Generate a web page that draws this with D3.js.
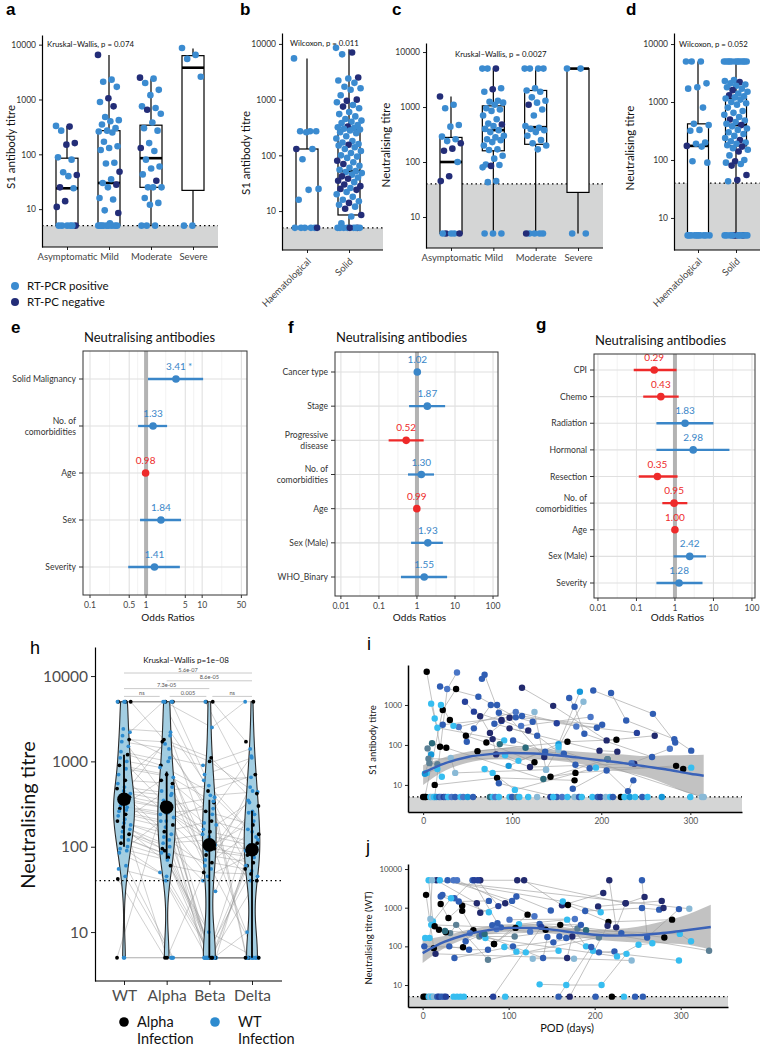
<!DOCTYPE html>
<html>
<head>
<meta charset="utf-8">
<script src="https://cdn.jsdelivr.net/npm/d3@7"></script>
<style>
  body { margin: 0; background: #fff; }
  text { font-family: Lato, "Open Sans", sans-serif; }
</style>
</head>
<body>
<script>
// ---------------- data ----------------
// box panels a-d: [lower whisker, q1, median, q3, upper whisker]
var sevCats = ["Asymptomatic", "Mild", "Moderate", "Severe"];
var cancerCats = ["Haematological", "Solid"];

var aBox = [[5, 5, 24, 85, 330], [5, 5, 30, 270, 6500], [5, 25, 85, 340, 2400], [5, 22, 3800, 6300, 8500]];
// points: [titre, RT-PCR negative flag]
var aPts = [
  [[330,0],[320,1],[270,0],[160,1],[150,1],[88,0],[80,0],[47,0],[42,1],[40,0],[25,1],[24,0],[14,1],[11,1],[5,0],[5,0],[5,1],[5,0],[5,0],[5,0]],
  [[6500,1],[2300,0],[2100,0],[1700,0],[1050,1],[900,0],[750,1],[480,0],[420,0],[400,0],[350,0],[300,0],[270,0],[260,0],[250,0],[170,0],[140,0],[130,0],[120,0],[70,0],[68,0],[48,1],[35,0],[30,0],[28,1],[25,0],[16,0],[15,0],[9.5,0],[8.5,1],[5.5,0],[5,0],[5,0],[5,0],[5,0],[5,0],[5,0],[5,0],[5,0],[5,0]],
  [[2500,1],[2400,0],[2000,0],[1500,0],[1200,0],[750,0],[700,0],[650,1],[550,0],[380,0],[300,0],[270,0],[160,0],[130,1],[115,0],[80,0],[60,0],[55,0],[43,0],[33,1],[25,0],[25,0],[25,0],[16,0],[13,0],[12,0],[5,0],[5,0],[5,0]],
  [[8700,0],[6500,0],[5500,0],[2600,0],[5,0],[5,0]]
];

var bBox = [[5, 5, 5, 130, 5500], [5, 8.5, 52, 290, 8000]];
var bPts = [
  [[5500,0],[270,0],[270,0],[270,0],[260,0],[130,1],[130,0],[85,0],[25,0],[24,0],[16,0],[5,0],[5,0],[5,0],[5,0],[5,0],[5,1]],
  [[8500,0],[7000,1],[6500,0],[2500,1],[2400,0],[2200,0],[2000,0],[1700,0],[1600,0],[1500,0],[1200,0],[1000,1],[950,1],[900,0],[800,0],[750,1],[700,0],[600,0],[550,0],[500,0],[450,0],[420,0],[400,0],[380,0],[350,0],[330,1],[320,0],[310,0],[300,0],[290,0],[280,0],[260,0],[250,0],[220,0],[200,0],[180,0],[170,0],[160,0],[155,1],[150,0],[140,0],[130,0],[120,0],[110,0],[100,0],[95,0],[90,0],[80,1],[75,0],[70,1],[65,0],[60,0],[55,0],[52,0],[50,0],[48,0],[45,0],[42,1],[40,0],[38,1],[35,1],[33,0],[30,1],[28,1],[26,0],[25,1],[24,1],[22,0],[20,0],[18,0],[16,0],[15,0],[14,1],[13,0],[12,0],[11,1],[8.5,1],[8,0],[6,0],[5,1],[5,0],[5,0],[5,0],[5,0],[5,0],[5,1],[5,0],[5,0]]
];

var cBox = [[5, 5, 100, 280, 1550], [5, 160, 380, 1050, 5000], [5, 210, 430, 2000, 5000], [5, 28, 5000, 5000, 5000]];
var cPts = [
  [[1550,1],[1100,0],[950,0],[470,0],[440,0],[290,0],[260,0],[240,0],[220,1],[175,1],[160,1],[100,0],[55,1],[45,1],[5,0],[5,1],[5,1],[5,0],[5,0]],
  [[5000,0],[5000,1],[5000,0],[2200,0],[2100,1],[1900,0],[1300,0],[1250,0],[1200,0],[1100,0],[950,0],[900,0],[850,0],[700,0],[600,0],[500,0],[480,1],[450,0],[400,0],[380,0],[350,0],[300,0],[280,0],[260,0],[250,0],[230,0],[200,0],[170,0],[165,0],[130,0],[115,0],[90,0],[88,0],[85,1],[80,0],[45,0],[43,0],[5,0],[5,0],[5,0]],
  [[5000,0],[5000,0],[5000,0],[5000,0],[2200,0],[2000,0],[1900,0],[1500,0],[1300,0],[1200,0],[1100,1],[900,0],[700,0],[450,0],[420,0],[400,0],[380,0],[350,0],[300,0],[250,0],[220,0],[200,0],[170,0],[5,0],[5,0],[5,0],[5,1],[5,0]],
  [[5000,0],[5000,0],[5,0],[5,0]]
];

var dBox = [[5, 5, 175, 420, 5000], [5, 175, 400, 1150, 5000]];
var dPts = [
  [[5000,0],[5000,0],[5000,0],[2100,0],[1800,0],[1700,0],[800,0],[420,0],[400,0],[330,0],[320,0],[200,0],[190,0],[175,1],[170,0],[95,0],[90,0],[5,0],[5,0],[5,0],[5,0],[5,0],[5,0],[5,0],[5,0],[5,0],[5,0]],
  [[5000,0],[5000,0],[5000,0],[5000,0],[5000,0],[5000,0],[5000,0],[5000,0],[5000,0],[5000,0],[5000,0],[5000,0],[2400,0],[2300,0],[2200,1],[2100,0],[2000,0],[1900,0],[1800,0],[1700,0],[1600,1],[1500,0],[1400,0],[1300,1],[1250,0],[1200,0],[1150,0],[1100,0],[1000,0],[950,0],[900,0],[800,0],[700,0],[650,0],[600,0],[550,0],[500,1],[480,0],[450,0],[420,0],[400,1],[380,0],[350,0],[330,0],[300,0],[280,0],[260,0],[240,0],[220,1],[210,0],[200,0],[190,0],[180,0],[170,1],[160,0],[150,0],[140,1],[120,0],[100,0],[95,1],[90,0],[85,0],[80,1],[55,1],[45,1],[43,0],[5,1],[5,1],[5,0],[5,0],[5,0],[5,0],[5,1],[5,0],[5,0],[5,0],[5,0],[5,0]]
];

// forest panels e-g
var eRows = ["Solid Malignancy", "No. of\ncomorbidities", "Age", "Sex", "Severity"];
var eOR = [3.41, 1.33, 0.98, 1.84, 1.41];
var eLo = [1.08, 0.72, 0.96, 0.78, 0.48];
var eHi = [10.4, 2.37, 1.0, 4.2, 4.0];
var eSig = ["*", "", "", "", ""];

var fRows = ["Cancer type", "Stage", "Progressive\ndisease", "No. of\ncomorbidities", "Age", "Sex (Male)", "WHO_Binary"];
var fOR = [1.02, 1.87, 0.52, 1.30, 0.99, 1.93, 1.55];
var fLo = [0.98, 0.62, 0.18, 0.58, 0.98, 0.70, 0.38];
var fHi = [1.06, 5.5, 1.5, 2.8, 1.0, 4.8, 6.2];

var gRows = ["CPI", "Chemo", "Radiation", "Hormonal", "Resection", "No. of\ncomorbidities", "Age", "Sex (Male)", "Severity"];
var gOR = [0.29, 0.43, 1.83, 2.98, 0.35, 0.95, 0.998, 2.42, 1.28];
var gLo = [0.085, 0.15, 0.33, 0.33, 0.115, 0.47, 0.98, 0.92, 0.33];
var gHi = [1.1, 1.25, 10, 26, 1.17, 2.1, 1.02, 6.4, 5.2];

var orTicksE = [0.1, 0.5, 1, 5, 10, 50];
var orTicksFG = [0.01, 0.1, 1, 10, 100];

// panel h: neutralising titre per variant, one row per subject [WT, Alpha, Beta, Delta, alpha infection]
var hVariants = ["WT", "Alpha", "Beta", "Delta"];
var hMedian = [360, 290, 105, 92];
var hLow = [100, 72, 5, 5];
var hHigh = [1200, 760, 355, 264];
var hSubjects = [
  [5000,5000,5000,5000,1],[5000,5000,5000,1700,1],[5000,5000,5000,450,0],[5000,5000,2500,5000,0],
  [5000,5000,700,1100,0],[5000,1800,1100,300,1],[2400,2200,600,650,0],[2200,5000,400,440,0],
  [2000,1100,900,1400,0],[1800,1700,1000,420,1],[1700,1400,180,330,0],[1500,450,520,130,0],
  [1300,1000,30,250,0],[1200,900,450,700,1],[1100,300,380,160,0],[1000,850,5,240,0],
  [900,700,330,60,1],[820,650,95,200,0],[700,250,280,5,0],[600,550,260,180,1],
  [550,1600,240,90,0],[500,420,60,150,0],[480,150,200,140,1],[450,400,190,1150,0],
  [420,350,5,120,0],[400,2000,160,40,0],[380,320,150,110,1],[370,120,140,105,0],
  [360,290,130,5,0],[350,280,5,95,0],[330,600,110,90,1],[300,250,105,350,0],
  [290,240,45,85,0],[280,5,95,80,1],[270,220,90,75,0],[260,200,340,5,0],
  [240,180,80,65,1],[230,170,5,60,0],[210,500,70,260,0],[200,90,65,55,1],
  [190,140,5,52,0],[180,130,55,5,0],[170,60,50,48,1],[160,110,120,45,0],
  [150,100,40,500,0],[140,95,5,40,1],[130,80,5,5,0],[120,85,10,5,0],
  [110,75,5,5,1],[100,200,5,5,0],[95,70,5,5,0],[90,50,5,100,0],
  [85,45,5,10,0],[60,5,5,5,0],[55,40,5,5,0],[45,5,5,5,0],
  [42,5,5,5,1],[5,5,5,5,0],[5,330,5,5,1],[5,5,5,5,0]
];
// pairwise comparisons: [from, to, label, row]
var hCompare = [[0, 3, "5.6e-07", 0], [1, 3, "8.6e-05", 1], [0, 2, "7.3e-05", 2], [0, 1, "ns", 3], [1, 2, "0.005", 3], [2, 3, "ns", 3]];

// panels i, j: per-patient trajectories [colour index, [[day, titre], ...]]
var trajPal = ["#000000", "#222a6e", "#25409a", "#2f5db3", "#4a76c6", "#1597d8", "#36bdf0", "#89b9d6", "#2b6b7c", "#5c8095"];

var iTracks = [
  [0, [[4,6800],[19,90],[26,85]]], [4, [[13,5],[27,2500],[38,6500]]], [3, [[66,4500],[69,5700],[85,640],[123,380]]],
  [3, [[19,2900],[62,1600],[104,490],[201,320]]], [0, [[2,5],[22,750],[37,2500]]], [1, [[111,2700],[146,950],[206,130],[260,170]]],
  [5, [[96,30],[152,105],[176,2150]]], [3, [[191,2300],[258,600],[283,115]]], [3, [[211,2000],[228,410],[282,140],[301,72]]],
  [6, [[9,1080],[13,460],[16,270],[91,130]]], [3, [[49,120],[57,260],[76,1000],[83,1000]]], [7, [[125,670],[138,24],[180,1200]]],
  [3, [[164,1500],[170,900],[181,190],[257,50]]], [1, [[64,520],[75,200],[97,480],[136,50]]], [0, [[30,420],[48,170],[71,115],[125,37]]],
  [4, [[40,280],[104,670],[172,290]]], [3, [[22,320],[111,530],[195,270]]], [8, [[10,110],[135,14],[207,44]]],
  [9, [[5,82],[7,35],[16,33]]], [1, [[78,140],[82,58],[120,28],[237,34]]], [0, [[61,70],[162,120],[217,135]]],
  [3, [[80,340],[128,170],[171,32],[187,26]]], [1, [[97,260],[198,72],[218,68]]], [3, [[168,8],[206,23],[230,7],[236,13]]],
  [0, [[143,16],[171,20],[284,30],[292,25]]], [6, [[69,25],[78,20],[103,7.5],[194,27],[301,27]]], [0, [[13,10],[83,15],[170,13]]],
  [3, [[85,11],[150,5]]], [7, [[31,47],[36,20],[138,24]]], [6, [[4,20],[16,25],[21,16]]],
  [5, [[2,19],[9,58]]], [4, [[234,35],[277,80]]], [9, [[6,45],[207,44]]],
  [7, [[152,75],[313,5]]], [2, [[47,1200],[57,680],[88,400]]], [6, [[20,1000],[34,300]]],
  [2, [[150,350],[240,200]]], [4, [[110,300],[188,500]]], [1, [[88,420],[118,230]]],
  [6, [[92,55],[107,40],[152,90]]], [3, [[101,130],[137,68],[158,60]]], [8, [[86,105],[115,85]]]
];
var iFloor = [[0,0],[3,0],[8,6],[10,7],[12,6],[15,5],[18,3],[20,4],[23,2],[25,3],[28,6],[32,4],[36,3],[42,6],[45,4],[50,5],[56,3],[75,8],[78,6],[81,4],[85,6],[97,6],[100,3],[105,9],[108,6],[118,6],[128,7],[143,2],[146,6],[156,4],[162,6],[170,7],[175,3],[178,6],[190,6],[196,3],[199,2],[205,7],[210,6],[213,3],[222,0],[226,6],[232,5],[238,6],[246,3],[252,6],[268,5],[300,6],[315,7]];

var jTracks = [
  [0, [[4,2150],[13,90],[47,95]]], [0, [[21,1250],[30,540],[46,1120]]], [3, [[21,1950],[42,1450],[77,1500]]],
  [3, [[23,2150],[37,1750],[58,5120],[87,400]]], [6, [[7,5120],[12,440],[33,1750],[77,760]]], [0, [[46,830],[59,260],[83,115],[122,660]]],
  [1, [[16,5120],[63,1300],[67,740],[96,1300]]], [3, [[29,5120],[104,1500],[109,1950],[149,850]]], [1, [[67,5120],[118,5120],[162,1150],[210,2400]]],
  [1, [[110,5120],[236,1300],[258,1900]]], [6, [[20,5120],[163,1450],[207,760]]], [0, [[169,1170],[216,430],[290,490]]],
  [3, [[189,820],[255,980],[275,890]]], [1, [[204,1080],[278,1500],[280,980]]], [1, [[217,5120],[225,310],[236,1300]]],
  [3, [[255,5120],[261,170],[298,920]]], [7, [[9,510],[11,5120],[310,940]]], [0, [[143,270],[160,360],[281,170]]],
  [6, [[3,165],[8,165],[10,360],[299,210],[312,135]]], [9, [[66,180],[107,180],[180,290],[333,77]]], [6, [[112,375],[168,490],[190,100],[198,77],[298,43]]],
  [3, [[81,350],[91,310],[136,380],[184,360]]], [3, [[2,100],[31,100],[54,82],[76,82]]], [1, [[15,64],[168,50],[174,180]]],
  [7, [[128,48],[176,48],[243,43]]], [6, [[136,10.4],[167,10],[208,10],[237,64]]], [3, [[50,135],[69,200],[140,50],[145,175]]],
  [6, [[95,96],[109,73],[120,70],[158,77]]], [9, [[32,220],[39,360],[76,45],[205,170]]], [0, [[14,330],[19,270],[27,230]]],
  [3, [[152,127],[159,180],[167,165],[205,70],[223,74]]], [6, [[73,165],[226,55],[251,110],[267,120]]], [4, [[101,490],[177,510]]],
  [3, [[37,50],[105,100],[231,220]]], [0, [[108,300],[83,115]]], [1, [[171,5],[215,340]]],
  [3, [[158,5],[196,96]]], [2, [[82,5],[138,320]]], [4, [[36,5120],[40,5120],[130,600]]],
  [2, [[60,5120],[64,5120],[88,1100]]], [8, [[26,250],[72,210],[190,260]]], [4, [[55,220],[86,280],[125,240]]]
];
var jFloor = [[1,0],[3,0],[7,6],[9,7],[11,6],[13,7],[17,3],[19,2],[22,3],[25,3],[27,2],[36,6],[40,6],[44,6],[48,6],[96,6],[201,3],[220,0],[234,6],[247,3],[256,3]];

// loess fits
var iFitDays = [0, 25, 50, 75, 100, 125, 150, 175, 200, 225, 250, 275, 300, 315];
var iFit = [20, 35, 50, 59, 63, 61, 55, 48, 41, 35, 29, 24, 19, 17];
var iFitLo = [10, 23, 36, 44, 46, 45, 40, 34, 27, 21, 16, 10, 6, 5];
var iFitHi = [31, 50, 68, 78, 86, 83, 75, 68, 62, 58, 53, 55, 56, 57];
var jFitDays = [0, 25, 50, 75, 100, 125, 150, 175, 200, 225, 250, 275, 300, 335];
var jFit = [67, 130, 200, 260, 300, 300, 270, 230, 200, 190, 195, 215, 250, 316];
var jFitLo = [37, 90, 155, 205, 240, 240, 215, 180, 150, 135, 125, 120, 115, 82];
var jFitHi = [150, 185, 260, 330, 375, 375, 340, 295, 270, 280, 320, 420, 580, 1190];

// ---------------- drawing ----------------
var posCol = "#3b8bd0", negCol = "#232d78";
var blueOR = "#3a86c8", redOR = "#ee2a2a";

var svg = d3.select("body").append("svg")
    .attr("width", 760)
    .attr("height", 1050);

// deterministic spread used for jittering points sideways
function jit(j) { return ((j * 0.6180339) % 1) - 0.5; }

function label(x, y, s, bold, size) {
    svg.append("text").attr("x", x).attr("y", y).text(s)
        .attr("font-size", size).attr("font-weight", bold ? "bold" : "normal")
        .style("font-family", "'Liberation Sans', Arial, sans-serif");
}

function ytitle(x, y, s, size) {
    svg.append("text").attr("transform", "translate(" + x + "," + y + ") rotate(-90)")
        .attr("text-anchor", "middle").attr("font-size", size).attr("fill", "#111").text(s);
}

function styleAxis(ax, size, col) {
    ax.selectAll("text").attr("font-size", size).attr("fill", col);
    ax.selectAll("line").attr("stroke", "#222");
    ax.select(".domain").attr("stroke", "#000").attr("stroke-width", 1.2);
}

// box plot with jittered points (a-d)
function boxPanel(p) {
    var g = svg.append("g");
    var y = d3.scaleLog().domain(p.yDom).range([p.y1, p.y0]);
    var x = d3.scalePoint().domain(p.cats).range(p.xr);

    // shaded area below limit of detection
    g.append("rect").attr("x", p.x0).attr("y", y(p.lod))
        .attr("width", p.x1 - p.x0).attr("height", p.y1 - y(p.lod))
        .attr("fill", "#d4d5d5");
    g.append("line").attr("x1", p.x0).attr("x2", p.x1).attr("y1", y(p.lod)).attr("y2", y(p.lod))
        .attr("stroke", "#000").attr("stroke-width", 1.3).attr("stroke-dasharray", "1.5,3");

    p.boxes.forEach(function(b, i) {
        var cx = x(p.cats[i]);
        g.append("line").attr("x1", cx).attr("x2", cx).attr("y1", y(b[0])).attr("y2", y(b[4]))
            .attr("stroke", "#000").attr("stroke-width", 1.2);
        g.append("rect").attr("x", cx - p.bw / 2).attr("y", y(b[3]))
            .attr("width", p.bw).attr("height", Math.max(0.5, y(b[1]) - y(b[3])))
            .attr("fill", "#fff").attr("stroke", "#000").attr("stroke-width", 1.2);
        g.append("line").attr("x1", cx - p.bw / 2).attr("x2", cx + p.bw / 2).attr("y1", y(b[2])).attr("y2", y(b[2]))
            .attr("stroke", "#000").attr("stroke-width", 2.6);
    });

    p.pts.forEach(function(arr, i) {
        g.selectAll(null).data(arr).enter().append("circle")
            .attr("cx", function(d, j) { return x(p.cats[i]) + jit(j) * p.jw; })
            .attr("cy", function(d) { return y(d[0]); })
            .attr("r", 3.3)
            .attr("fill", function(d) { return d[1] ? negCol : posCol; });
    });

    var ay = g.append("g").attr("transform", "translate(" + p.x0 + ",0)")
        .call(d3.axisLeft(y).tickValues([10, 100, 1000, 10000]).tickFormat(d3.format("d")).tickSize(3).tickSizeOuter(0));
    styleAxis(ay, 8.5, "#333");

    var ax = g.append("g").attr("transform", "translate(0," + p.y1 + ")")
        .call(d3.axisBottom(x).tickSize(3).tickSizeOuter(0));
    ax.select(".domain").remove();
    g.append("line").attr("x1", p.x0).attr("x2", p.x1).attr("y1", p.y1).attr("y2", p.y1)
        .attr("stroke", "#000").attr("stroke-width", 1.2);
    styleAxis(ax, 9.5, "#444");
    if (p.rotate) {
        ax.selectAll("text").attr("text-anchor", "end").attr("dy", null).attr("y", 0)
            .attr("transform", "translate(4,12) rotate(-45)");
    } else {
        ax.selectAll("text").attr("y", 6);
    }

    g.append("text").attr("x", p.sx).attr("y", p.sy).attr("font-size", 7.8).attr("fill", "#111").text(p.stat);
    ytitle(p.tx, p.ty, p.title, 11.5);
}

boxPanel({x0: 42, x1: 218, y0: 35, y1: 247, yDom: [2.04, 15000], cats: sevCats, xr: [67, 193], bw: 22, jw: 22,
    boxes: aBox, pts: aPts, lod: 5, stat: "Kruskal\u2013Wallis, p = 0.074", sx: 47, sy: 47,
    title: "S1 antibody titre", tx: 15, ty: 147});
boxPanel({x0: 282, x1: 383, y0: 33, y1: 250, yDom: [2.0, 15700], cats: cancerCats, xr: [307, 349], bw: 22, jw: 26,
    boxes: bBox, pts: bPts, lod: 5, stat: "Wilcoxon, p = 0.011", sx: 290, sy: 46,
    title: "S1 antibody titre", tx: 250, ty: 153, rotate: true});
boxPanel({x0: 426, x1: 603, y0: 43, y1: 248, yDom: [2.73, 14600], cats: sevCats, xr: [451, 578], bw: 22, jw: 22,
    boxes: cBox, pts: cPts, lod: 40, stat: "Kruskal\u2013Wallis, p = 0.0027", sx: 455, sy: 57,
    title: "Neutralising titre", tx: 390, ty: 145});
boxPanel({x0: 674, x1: 760, y0: 33, y1: 250, yDom: [2.8, 15500], cats: cancerCats, xr: [698, 736], bw: 21, jw: 24,
    boxes: dBox, pts: dPts, lod: 40, stat: "Wilcoxon, p = 0.052", sx: 679, sy: 47,
    title: "Neutralising titre", tx: 634, ty: 148, rotate: true});

// legend for a-d
[["RT-PCR positive", posCol], ["RT-PC negative", negCol]].forEach(function(d, i) {
    svg.append("circle").attr("cx", 15).attr("cy", 286 + i * 16).attr("r", 4).attr("fill", d[1]);
    svg.append("text").attr("x", 27).attr("y", 290 + i * 16).attr("font-size", 11.5).attr("fill", "#111").text(d[0]);
});

// forest plots (e-g)
function forest(p) {
    var g = svg.append("g");
    var x = d3.scaleLog().domain(p.dom).range([p.x0, p.x1]);
    var y = d3.scalePoint().domain(p.rows).range(p.yr);

    var minor = [];
    for (var k = 0; k < p.ticks.length - 1; k++) minor.push(Math.sqrt(p.ticks[k] * p.ticks[k + 1]));
    g.selectAll(null).data(minor).enter().append("line")
        .attr("x1", function(d) { return x(d); }).attr("x2", function(d) { return x(d); })
        .attr("y1", p.y0).attr("y2", p.y1).attr("stroke", "#ececec").attr("stroke-width", 0.7);
    g.selectAll(null).data(p.ticks).enter().append("line")
        .attr("x1", function(d) { return x(d); }).attr("x2", function(d) { return x(d); })
        .attr("y1", p.y0).attr("y2", p.y1).attr("stroke", "#e0e0e0").attr("stroke-width", 1.1);
    g.selectAll(null).data(p.rows).enter().append("line")
        .attr("x1", p.x0).attr("x2", p.x1)
        .attr("y1", function(d) { return y(d); }).attr("y2", function(d) { return y(d); })
        .attr("stroke", "#e0e0e0").attr("stroke-width", 1.1);

    g.append("line").attr("x1", x(1)).attr("x2", x(1)).attr("y1", p.y0).attr("y2", p.y1)
        .attr("stroke", "#b3b3b3").attr("stroke-width", 4);

    p.rows.forEach(function(r, i) {
        var col = p.or[i] < 1 ? redOR : blueOR;
        g.append("line").attr("x1", x(p.lo[i])).attr("x2", x(p.hi[i])).attr("y1", y(r)).attr("y2", y(r))
            .attr("stroke", col).attr("stroke-width", 2.3);
        g.append("circle").attr("cx", x(p.or[i])).attr("cy", y(r)).attr("r", 3.8).attr("fill", col);
        g.append("text").attr("x", x(p.or[i])).attr("y", y(r) - 9).attr("text-anchor", "middle")
            .attr("font-size", 10).attr("fill", col).text(p.or[i].toFixed(2));
        if (p.sig && p.sig[i]) {
            g.append("text").attr("x", x(p.or[i]) + 12).attr("y", y(r) - 9)
                .attr("font-size", 10).attr("fill", col).text(p.sig[i]);
        }
        // row label, may span two lines
        var lines = r.split("\n");
        var t = g.append("text").attr("text-anchor", "end").attr("font-size", 8.6).attr("fill", "#333");
        lines.forEach(function(s, li) {
            t.append("tspan").attr("x", p.x0 - 7)
                .attr("y", y(r) + 3 + (li - (lines.length - 1) / 2) * 11)
                .text(s);
        });
        g.append("line").attr("x1", p.x0 - 4).attr("x2", p.x0).attr("y1", y(r)).attr("y2", y(r))
            .attr("stroke", "#333");
    });

    g.selectAll(null).data(p.ticks).enter().append("text")
        .attr("x", function(d) { return x(d); }).attr("y", p.y1 + 13)
        .attr("text-anchor", "middle").attr("font-size", 8.6).attr("fill", "#444")
        .text(function(d) { return String(d); });
    g.selectAll(null).data(p.ticks).enter().append("line")
        .attr("x1", function(d) { return x(d); }).attr("x2", function(d) { return x(d); })
        .attr("y1", p.y1).attr("y2", p.y1 + 3).attr("stroke", "#333");

    g.append("rect").attr("x", p.x0).attr("y", p.y0).attr("width", p.x1 - p.x0).attr("height", p.y1 - p.y0)
        .attr("fill", "none").attr("stroke", "#333").attr("stroke-width", 1);

    g.append("text").attr("x", p.x0 + 1).attr("y", p.ty).attr("font-size", 13).attr("fill", "#111").text("Neutralising antibodies");
    g.append("text").attr("x", (p.x0 + p.x1) / 2 + 3).attr("y", 621).attr("text-anchor", "middle")
        .attr("font-size", 10).attr("fill", "#111").text("Odds Ratios");
}

forest({x0: 83, x1: 247, y0: 351, y1: 595, dom: [0.075, 63], ticks: orTicksE, yr: [379, 567],
    rows: eRows, or: eOR, lo: eLo, hi: eHi, sig: eSig, ty: 342});
forest({x0: 335, x1: 498, y0: 352, y1: 596, dom: [0.007, 135], ticks: orTicksFG, yr: [372, 577],
    rows: fRows, or: fOR, lo: fLo, hi: fHi, ty: 342});
forest({x0: 594, x1: 755, y0: 354, y1: 598, dom: [0.0079, 120], ticks: orTicksFG, yr: [370, 583],
    rows: gRows, or: gOR, lo: gLo, hi: gHi, ty: 345});

// ---- h: violins with paired lines ----
(function() {
    var x0 = 95, x1 = 282, y0 = 647, y1 = 981;
    var g = svg.append("g");
    var y = d3.scaleLog().domain([2.67, 21900]).range([y1, y0]);
    var x = d3.scalePoint().domain(hVariants).range([124, 252]);

    function px(s, k) { return x(hVariants[k]) + jit(s * 4 + k * 7 + 1) * 14; }

    // paired lines per subject
    var line = d3.line().x(function(d) { return d[0]; }).y(function(d) { return d[1]; });
    hSubjects.forEach(function(s, si) {
        var pts = [0, 1, 2, 3].map(function(k) { return [px(si, k), y(s[k])]; });
        g.append("path").attr("d", line(pts)).attr("fill", "none")
            .attr("stroke", "#8c8c8c").attr("stroke-width", 0.5).attr("opacity", 0.8);
    });

    // kernel density in log space, trimmed to data range
    var dens = hVariants.map(function(v, k) {
        var vals = hSubjects.map(function(s) { return Math.log10(s[k]); });
        var sorted = vals.slice().sort(d3.ascending);
        var sd = d3.deviation(vals);
        var iqr = d3.quantile(sorted, 0.75) - d3.quantile(sorted, 0.25);
        var bw = 0.9 * Math.min(sd, iqr / 1.34) * Math.pow(vals.length, -0.2);
        var lo = d3.min(vals), hi = d3.max(vals);
        return d3.range(0, 81).map(function(i) {
            var t = lo + (hi - lo) * i / 80;
            var dd = d3.mean(vals, function(v2) { return Math.exp(-0.5 * Math.pow((t - v2) / bw, 2)); }) / bw;
            return [t, dd];
        });
    });
    var maxD = d3.max(dens, function(a) { return d3.max(a, function(d) { return d[1]; }); });
    var w = d3.scaleLinear().domain([0, maxD]).range([0, 10.5]);
    dens.forEach(function(a, k) {
        var cx = x(hVariants[k]);
        var area = d3.area().curve(d3.curveBasis)
            .y(function(d) { return y(Math.pow(10, d[0])); })
            .x0(function(d) { return cx - w(d[1]); })
            .x1(function(d) { return cx + w(d[1]); });
        g.append("path").attr("d", area(a)).attr("fill", "#9ccae0").attr("fill-opacity", 0.93)
            .attr("stroke", "#2b2b2b").attr("stroke-width", 1.1);
    });

    // points
    hSubjects.forEach(function(s, si) {
        [0, 1, 2, 3].forEach(function(k) {
            g.append("circle").attr("cx", px(si, k)).attr("cy", y(s[k])).attr("r", 1.9)
                .attr("fill", s[4] ? "#000" : "#2d8bcf");
        });
    });

    // summary: median dot and range line
    hVariants.forEach(function(v, k) {
        var cx = x(v);
        g.append("line").attr("x1", cx).attr("x2", cx).attr("y1", y(hLow[k])).attr("y2", y(hHigh[k]))
            .attr("stroke", "#000").attr("stroke-width", 1.8);
        g.append("circle").attr("cx", cx).attr("cy", y(hMedian[k])).attr("r", 6.8).attr("fill", "#000");
    });

    // limit of detection
    g.append("line").attr("x1", x0).attr("x2", x1).attr("y1", y(40)).attr("y2", y(40))
        .attr("stroke", "#000").attr("stroke-width", 1.3).attr("stroke-dasharray", "1.5,3");

    // comparison brackets
    hCompare.forEach(function(c) {
        var ly = 673 + c[3] * 7.8;
        var pad = c[3] === 3 ? 3 : 0;
        var xa = x(hVariants[c[0]]) + (c[0] > 0 ? pad : 0), xb = x(hVariants[c[1]]) - (c[1] < 3 ? pad : 0);
        if (c[3] === 3 && c[0] === 0) xb -= 4;
        g.append("line").attr("x1", xa).attr("x2", xb).attr("y1", ly).attr("y2", ly)
            .attr("stroke", "#c4c4c4").attr("stroke-width", 0.9);
        g.append("text").attr("x", (xa + xb) / 2).attr("y", ly - 1.5).attr("text-anchor", "middle")
            .attr("font-size", 5.6).attr("fill", "#555").text(c[2]);
    });
    g.append("text").attr("x", 186).attr("y", 663).attr("text-anchor", "middle")
        .attr("font-size", 8).attr("fill", "#111").text("Kruskal\u2013Wallis p=1e\u221208");

    var ay = g.append("g").attr("transform", "translate(" + x0 + ",0)")
        .call(d3.axisLeft(y).tickValues([10, 100, 1000, 10000]).tickFormat(d3.format("d")).tickSize(4).tickSizeOuter(0));
    styleAxis(ay, 15.5, "#4d4d4d");
    ay.selectAll("text").attr("x", -7);
    var ax = g.append("g").attr("transform", "translate(0," + y1 + ")")
        .call(d3.axisBottom(x).tickSize(4).tickSizeOuter(0));
    ax.select(".domain").remove();
    g.append("line").attr("x1", x0).attr("x2", x1).attr("y1", y1).attr("y2", y1).attr("stroke", "#000").attr("stroke-width", 1.2);
    styleAxis(ax, 15.5, "#4d4d4d");
    ax.selectAll("text").attr("y", 9);

    ytitle(35, 815, "Neutralising titre", 20);

    // legend
    [["#000", 124, 137, "Alpha"], ["#2d8bcf", 215, 238, "WT"]].forEach(function(d) {
        g.append("circle").attr("cx", d[1]).attr("cy", 1022).attr("r", 4.8).attr("fill", d[0]);
        var t = g.append("text").attr("font-size", 14.5).attr("fill", "#111");
        t.append("tspan").attr("x", d[2]).attr("y", 1027).text(d[3]);
        t.append("tspan").attr("x", d[2]).attr("y", 1044).text("Infection");
    });
})();

// ---- i, j: titre over time ----
function trajPanel(p) {
    var g = svg.append("g");
    var x = d3.scaleLinear().domain(p.xDom).range([p.x0, p.x1]);
    var y = d3.scaleLog().domain(p.yDom).range([p.y1, p.y0]);

    g.append("rect").attr("x", p.x0).attr("y", y(5)).attr("width", p.x1 - p.x0).attr("height", p.y1 - y(5))
        .attr("fill", "#d4d5d5");
    g.append("line").attr("x1", p.x0).attr("x2", p.x1).attr("y1", y(5)).attr("y2", y(5))
        .attr("stroke", "#000").attr("stroke-width", 1.3).attr("stroke-dasharray", "1.5,3");

    var line = d3.line().x(function(d) { return x(d[0]); }).y(function(d) { return y(d[1]); });
    p.tracks.forEach(function(t) {
        var pts = t[1].slice().sort(function(a, b) { return a[0] - b[0]; });
        if (pts.length > 1) {
            g.append("path").attr("d", line(pts)).attr("fill", "none")
                .attr("stroke", "#a8a8a8").attr("stroke-width", 0.7);
        }
    });

    // confidence band
    var band = d3.area().curve(d3.curveMonotoneX)
        .x(function(d, i) { return x(p.fitDays[i]); })
        .y0(function(d, i) { return y(p.fitLo[i]); })
        .y1(function(d, i) { return y(p.fitHi[i]); });
    g.append("path").attr("d", band(p.fit)).attr("fill", "#9a9a9a").attr("opacity", 0.6);

    // points
    var all = [];
    p.tracks.forEach(function(t) { t[1].forEach(function(d) { all.push([d[0], d[1], t[0]]); }); });
    p.floor.forEach(function(d) { all.push([d[0], 5, d[1]]); });
    g.selectAll(null).data(all).enter().append("circle")
        .attr("cx", function(d) { return x(d[0]); })
        .attr("cy", function(d) { return y(d[1]); })
        .attr("r", 3.2)
        .attr("fill", function(d) { return trajPal[d[2]]; });

    var fitLine = d3.line().curve(d3.curveMonotoneX)
        .x(function(d, i) { return x(p.fitDays[i]); })
        .y(function(d) { return y(d); });
    g.append("path").attr("d", fitLine(p.fit)).attr("fill", "none")
        .attr("stroke", "#3a62b8").attr("stroke-width", 2.4);

    var ay = g.append("g").attr("transform", "translate(" + p.x0 + ",0)")
        .call(d3.axisLeft(y).tickValues(p.yTicks).tickFormat(d3.format("d")).tickSize(3).tickSizeOuter(0));
    styleAxis(ay, 7.8, "#444");
    var ax = g.append("g").attr("transform", "translate(0," + p.y1 + ")")
        .call(d3.axisBottom(x).tickValues([0, 100, 200, 300]).tickSize(3).tickSizeOuter(0));
    styleAxis(ax, 8.5, "#555");
    ax.select(".domain").attr("stroke-width", 1.5);
    ay.select(".domain").attr("stroke-width", 1.5);

    ytitle(p.tx, p.ty, p.title, 9.5);
}

trajPanel({x0: 408, x1: 742, y0: 665, y1: 812, xDom: [-17, 358], yDom: [2.1, 10000], yTicks: [10, 100, 1000],
    tracks: iTracks, floor: iFloor, fitDays: iFitDays, fit: iFit, fitLo: iFitLo, fitHi: iFitHi,
    title: "S1 antibody titre", tx: 376, ty: 740});
trajPanel({x0: 408, x1: 728, y0: 864, y1: 1007, xDom: [-17, 355], yDom: [2.7, 13500], yTicks: [10, 100, 1000, 10000],
    tracks: jTracks, floor: jFloor, fitDays: jFitDays, fit: jFit, fitLo: jFitLo, fitHi: jFitHi,
    title: "Neutralising titre (WT)", tx: 372, ty: 938});
svg.append("text").attr("x", 567).attr("y", 1032).attr("text-anchor", "middle")
    .attr("font-size", 11).attr("fill", "#111").text("POD (days)");

// panel letters
label(6, 15, "a", true, 17);
label(240, 15, "b", true, 17);
label(392, 15, "c", true, 17);
label(626, 15, "d", true, 17);
label(11, 333, "e", true, 17);
label(288, 333, "f", true, 17);
label(536, 330, "g", true, 17);
label(30, 654, "h", false, 18);
label(367, 650, "i", false, 18);
label(366, 853, "j", false, 18);
</script>
</body>
</html>
